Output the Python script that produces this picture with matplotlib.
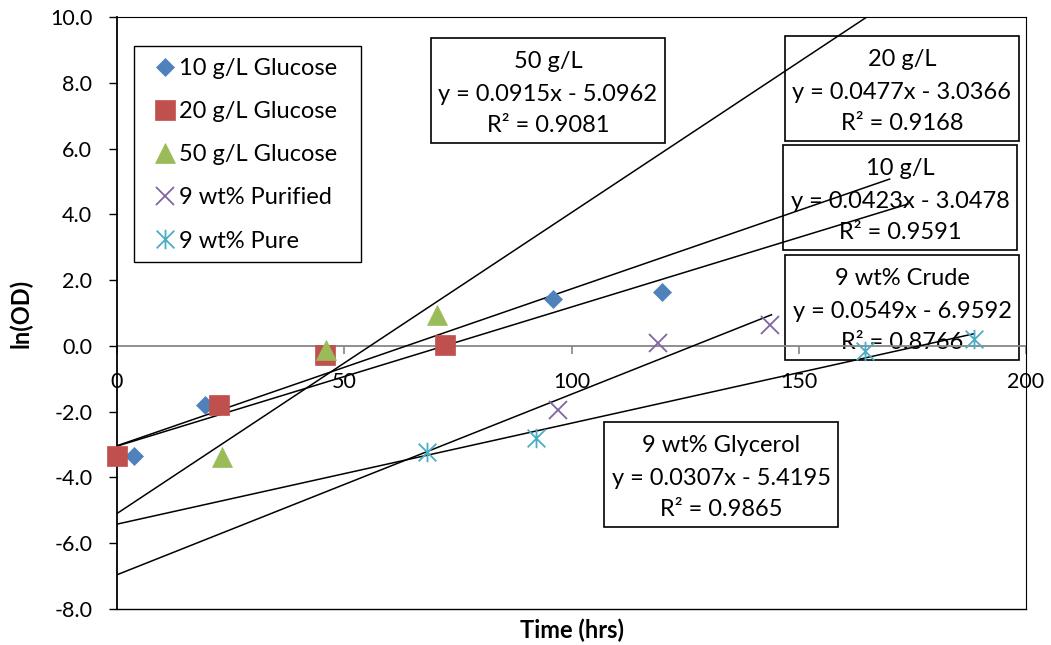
import matplotlib
matplotlib.use("Agg")
import matplotlib.pyplot as plt
from matplotlib.path import Path
from matplotlib.patches import Rectangle
import numpy as np

plt.rcParams['font.family'] = ['Lato', 'DejaVu Sans']

# ---- measured growth data: time (hrs) vs ln(OD) ----
time_10 = [3.7, 19.4, 95.9, 120.0]
ln_od_10 = [-3.34, -1.79, 1.43, 1.63]

time_20 = [0.0, 22.4, 45.8, 72.2]
ln_od_20 = [-3.34, -1.79, -0.27, 0.03]

time_50 = [23.2, 45.9, 70.3]
ln_od_50 = [-3.38, -0.13, 0.93]

time_purified = [97.1, 119.1, 143.7]
ln_od_purified = [-1.95, 0.08, 0.64]

time_pure = [68.3, 92.1, 164.6, 188.6]
ln_od_pure = [-3.24, -2.79, -0.15, 0.20]

series_labels = ["10 g/L Glucose", "20 g/L Glucose", "50 g/L Glucose",
                 "9 wt% Purified", "9 wt% Pure"]

# ---- linear trendlines ----
fit_names = ["50 g/L", "20 g/L", "10 g/L", "9 wt% Crude", "9 wt% Glycerol"]
fit_slopes = [0.0915, 0.0477, 0.0423, 0.0549, 0.0307]
fit_intercepts = [-5.0962, -3.0366, -3.0478, -6.9592, -5.4195]
fit_r2 = [0.9081, 0.9168, 0.9591, 0.8766, 0.9865]
fit_x_end = [200.0, 170.0, 174.0, 144.0, 188.6]

x_ticks = [0, 50, 100, 150, 200]
y_ticks = [-8, -6, -4, -2, 0, 2, 4, 6, 8, 10]

W, H = 1051, 645
fig = plt.figure(figsize=(W / 100, H / 100), dpi=100)


def fx(px):
    return px / W


def fy(py):
    return 1 - py / H


ax_left, ax_top, ax_right, ax_bottom = 117, 17, 1026, 609
ax = fig.add_axes([fx(ax_left), fy(ax_bottom),
                   (ax_right - ax_left) / W, (ax_bottom - ax_top) / H])
ax.set_xlim(0, 200)
ax.set_ylim(-8, 10)

# asterisk marker: an x with a vertical bar
aster = Path([(-0.5, -0.5), (0.5, 0.5), (-0.5, 0.5), (0.5, -0.5), (0, -0.55), (0, 0.55)],
             [Path.MOVETO, Path.LINETO, Path.MOVETO, Path.LINETO, Path.MOVETO, Path.LINETO])

blue, red, green, purple, cyan = "#4F81BD", "#C0504D", "#9BBB59", "#8064A2", "#4BACC6"

h1, = ax.plot(time_10, ln_od_10, ls='none', marker='D', ms=9.5, color=blue,
              mec=blue, mew=0.5, zorder=4, clip_on=False)
h2, = ax.plot(time_20, ln_od_20, ls='none', marker='s', ms=14, color=red,
              mec=red, mew=0.5, zorder=4, clip_on=False)
h3, = ax.plot(time_50, ln_od_50, ls='none', marker='^', ms=14, color=green,
              mec=green, mew=0.5, zorder=4, clip_on=False)
h4, = ax.plot(time_purified, ln_od_purified, ls='none', marker='x', ms=13,
              color=purple, mew=1.3, zorder=4, clip_on=False)
h5, = ax.plot(time_pure, ln_od_pure, ls='none', marker=aster, ms=14,
              color=cyan, mfc='none', mew=1.3, zorder=4, clip_on=False)

# trendlines, projected back to t = 0
for m, b, xe in zip(fit_slopes, fit_intercepts, fit_x_end):
    xs = np.array([0.0, xe])
    ax.plot(xs, m * xs + b, color='black', lw=1.1, zorder=3)

# spines and axes
for s in ('top', 'right'):
    ax.spines[s].set_color('black')
    ax.spines[s].set_linewidth(0.8)
ax.spines['left'].set_color('black')
ax.spines['left'].set_linewidth(1.3)
ax.spines['bottom'].set_position(('data', 0))
ax.spines['bottom'].set_color('#868686')
ax.spines['bottom'].set_linewidth(1.3)
ax.spines['bottom'].set_zorder(2)
ax.axhline(-8, color='black', lw=1.0, clip_on=False, zorder=2)

ax.set_xticks(x_ticks)
ax.set_xticklabels([str(t) for t in x_ticks])
ax.set_yticks(y_ticks)
ax.set_yticklabels([f"{t:.1f}" for t in y_ticks])
ax.tick_params(axis='x', direction='out', length=5.5, width=1.2,
               color='#868686', pad=13.5, labelsize=15.5, labelcolor='black')
ax.tick_params(axis='y', direction='out', length=5.8, width=1.0,
               color='black', pad=12, labelsize=15.5)

ax.set_xlabel("Time (hrs)", fontsize=17, fontweight='bold')
ax.xaxis.set_label_coords(0.5, -0.016)
ax.set_ylabel("ln(OD)", fontsize=17, fontweight='bold')
ax.yaxis.set_label_coords(-0.093, 0.5)

# legend with a fixed outline
leg = ax.legend([h1, h2, h3, h4, h5], series_labels, loc='upper left',
                bbox_to_anchor=(fx(144), fy(46)), bbox_transform=fig.transFigure,
                frameon=False, numpoints=1, fontsize=17, handlelength=0.75,
                handletextpad=0.25, labelspacing=0.94, borderpad=0.5,
                borderaxespad=0)
leg.set_zorder(5)
ax.add_patch(Rectangle((fx(134), fy(262)), fx(361) - fx(134), fy(46) - fy(262),
                       transform=fig.transFigure, facecolor='white',
                       edgecolor='black', lw=1.0, zorder=4.5))

# trendline equation boxes (left, top) in pixels
box_pos = [(431, 38), (785, 36), (783, 145), (785, 255), (604, 422)]
box_w, box_h = 234, 105
for (bl, bt), name, m, b, r2 in zip(box_pos, fit_names, fit_slopes,
                                      fit_intercepts, fit_r2):
    ax.add_patch(Rectangle((fx(bl), fy(bt + box_h)), box_w / W, box_h / H,
                           transform=fig.transFigure, facecolor='none',
                           edgecolor='black', lw=1.2, zorder=1.5))
    sign = '-' if b < 0 else '+'
    lines = [name, f"y = {m:.4f}x {sign} {abs(b):.4f}", f"R\u00b2 = {r2:.4f}"]
    for off, txt in zip((30, 63, 94), lines):
        ax.text(fx(bl + box_w / 2), fy(bt + off), txt, transform=fig.transFigure,
                ha='center', va='baseline', fontsize=17, zorder=1.6)

fig.savefig("out.png", dpi=100)
